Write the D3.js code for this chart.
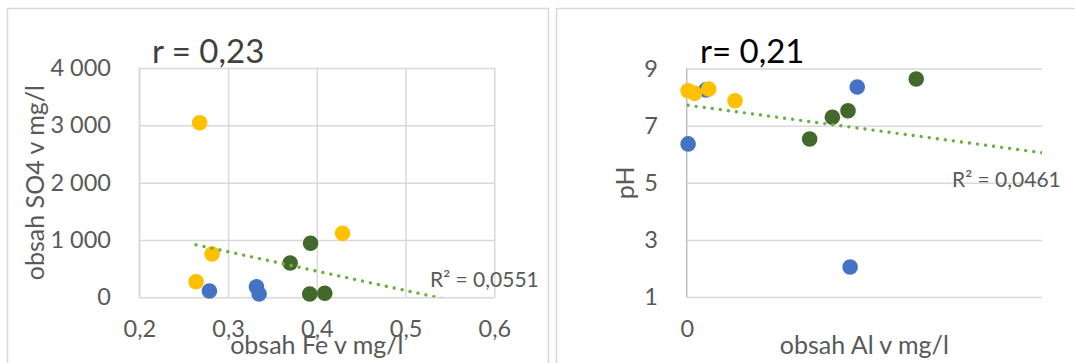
<!DOCTYPE html>
<html><head><meta charset="utf-8">
<script src="https://cdn.jsdelivr.net/npm/d3@7"></script>
<style>
body{margin:0;background:#fff}
svg{display:block}
text{font-family:Lato,'Open Sans',sans-serif}
</style>
</head><body>
<svg id="c" width="1075" height="363"></svg>
<script>
// ---------- DATA ----------
// Chart 1: Fe (mg/l) vs SO4 (mg/l)
const feBlue   = [0.279, 0.332, 0.335];
const so4Blue  = [110, 185, 58];
const feYellow = [0.268, 0.282, 0.264, 0.429];
const so4Yellow= [3045, 755, 272, 1116];
const feGreen  = [0.393, 0.370, 0.392, 0.409];
const so4Green = [942, 598, 58, 70];
const feTicks  = [0.2, 0.3, 0.4, 0.5, 0.6];
const so4Ticks = [0, 1000, 2000, 3000, 4000];

// Chart 2: Al (mg/l) vs pH
const alBlue   = [0.027, 0.002, 0.240, 0.230];
const phBlue   = [8.25, 6.36, 8.35, 2.05];
const alYellow = [0.002, 0.011, 0.031, 0.068];
const phYellow = [8.22, 8.13, 8.28, 7.87];
const alGreen  = [0.323, 0.227, 0.205, 0.173];
const phGreen  = [8.63, 7.52, 7.29, 6.53];
const alTicks  = [0];
const phTicks  = [1, 3, 5, 7, 9];

const titles   = ["r = 0,23", "r= 0,21"];
const r2Labels = ["R² = 0,0551", "R² = 0,0461"];
const xTitles  = ["obsah Fe v mg/l", "obsah Al v mg/l"];
const yTitles  = ["obsah SO4 v mg/l", "pH"];

// ---------- STYLE ----------
const COL = {blue:"#4472C4", yellow:"#FFC000", green:"#43682B", trend:"#70AD47",
             grid:"#d9d9d9", axis:"#bfbfbf", text:"#595959", border:"#d9d9d9"};
const R = 7.8;

const locale = d3.formatLocale({decimal:",", thousands:"\u00a0", grouping:[3], currency:["",""]});
const fmtThousands = locale.format(",d");
const fmtDec1 = locale.format(".1f");

const svg = d3.select("#c");

// chart frames
svg.append("rect").attr("x",7.5).attr("y",8.5).attr("width",541).attr("height",400)
  .attr("fill","none").attr("stroke",COL.border).attr("stroke-width",1.5);
svg.append("rect").attr("x",556.5).attr("y",8.5).attr("width",600).attr("height",400)
  .attr("fill","none").attr("stroke",COL.border).attr("stroke-width",1.5);

function zip(xs, ys){ return xs.map((x,i)=>({x, y:ys[i]})); }

function regression(pts){
  const mx = d3.mean(pts,d=>d.x), my = d3.mean(pts,d=>d.y);
  let sxy=0, sxx=0;
  pts.forEach(d=>{ sxy += (d.x-mx)*(d.y-my); sxx += (d.x-mx)*(d.x-mx); });
  const b = sxy/sxx, a = my - b*mx;
  return x => a + b*x;
}

function drawChart(cfg){
  const g = svg.append("g");
  const x = d3.scaleLinear().domain(cfg.xDomain).range([cfg.left, cfg.right]);
  const y = d3.scaleLinear().domain(cfg.yDomain).range([cfg.bottom, cfg.top]);

  // horizontal gridlines
  g.append("g").attr("transform",`translate(${cfg.left},0)`)
    .call(d3.axisLeft(y).tickValues(cfg.yTicks).tickSize(-(cfg.right-cfg.left)).tickFormat(""))
    .call(s=>s.select(".domain").remove())
    .call(s=>s.selectAll("line").attr("stroke",COL.grid).attr("stroke-width",1.5));
  // vertical gridlines
  if (cfg.vGrid){
    g.append("g").attr("transform",`translate(0,${cfg.bottom})`)
      .call(d3.axisBottom(x).tickValues(cfg.xTicks).tickSize(-(cfg.bottom-cfg.top)).tickFormat(""))
      .call(s=>s.select(".domain").remove())
      .call(s=>s.selectAll("line").attr("stroke",COL.grid).attr("stroke-width",1.5));
  }
  // y axis line
  g.append("line").attr("x1",x(cfg.xDomain[0])).attr("x2",x(cfg.xDomain[0]))
    .attr("y1",cfg.top).attr("y2",cfg.bottom)
    .attr("stroke",cfg.axisColor).attr("stroke-width",1.5);

  // y tick labels
  g.append("g").attr("transform",`translate(${cfg.yLabelX},0)`)
    .call(d3.axisLeft(y).tickValues(cfg.yTicks).tickSize(0).tickPadding(0).tickFormat(cfg.yFmt))
    .call(s=>s.select(".domain").remove())
    .call(s=>s.selectAll("text").attr("fill",COL.text).style("font-size","23.5px")
        .attr("font-family","Lato"));
  // x tick labels
  g.append("g").attr("transform",`translate(0,${cfg.xLabelY})`)
    .call(d3.axisBottom(x).tickValues(cfg.xTicks).tickSize(0).tickPadding(0).tickFormat(cfg.xFmt))
    .call(s=>s.select(".domain").remove())
    .call(s=>s.selectAll("text").attr("fill",COL.text).style("font-size","23.5px")
        .attr("dy",null).attr("y",0).attr("font-family","Lato"));

  // clip for trend line
  const clipId = "clip"+cfg.id;
  svg.append("clipPath").attr("id",clipId).append("rect")
    .attr("x",cfg.left).attr("y",cfg.top).attr("width",cfg.right-cfg.left).attr("height",cfg.bottom-cfg.top);

  // points
  cfg.series.forEach(s=>{
    g.append("g").selectAll("circle").data(s.pts).join("circle")
      .attr("cx",d=>x(d.x)).attr("cy",d=>y(d.y)).attr("r",R).attr("fill",s.color);
  });

  // trend line (linear least squares of all points)
  const all = cfg.series.flatMap(s=>s.pts);
  const f = regression(all);
  const x0 = d3.min(all,d=>d.x), x1 = cfg.trendEnd;
  g.append("line").attr("clip-path",`url(#${clipId})`)
    .attr("x1",x(x0)).attr("y1",y(f(x0))).attr("x2",x(x1)).attr("y2",y(f(x1)))
    .attr("stroke",COL.trend).attr("stroke-width",3.4).attr("stroke-linecap","round")
    .attr("stroke-dasharray","0.01 8.1");

  // R² label
  g.append("text").attr("x",cfg.r2x).attr("y",cfg.r2y).text(cfg.r2)
    .attr("fill",COL.text).style("font-size","21px");
  // r title
  g.append("text").attr("x",cfg.tx).attr("y",63).text(cfg.title)
    .attr("fill",cfg.titleColor).style("font-size","33px");
  // axis titles
  g.append("text").attr("x",(cfg.left+cfg.right)/2).attr("y",354).attr("text-anchor","middle")
    .text(cfg.xTitle).attr("fill",COL.text).style("font-size","25px");
  g.append("text").attr("transform",`translate(${cfg.yTitleX},${(cfg.top+cfg.bottom)/2}) rotate(-90)`)
    .attr("text-anchor","middle").text(cfg.yTitle).attr("fill",COL.text).style("font-size","25px");
}

drawChart({
  id:1, left:139.3, right:494.3, top:68, bottom:297.3,
  xDomain:[0.2,0.6], yDomain:[0,4000], xTicks:feTicks, yTicks:so4Ticks, vGrid:true,
  axisColor:COL.grid,
  xFmt:fmtDec1, yFmt:fmtThousands, yLabelX:111, xLabelY:337,
  series:[
    {pts:zip(feYellow,so4Yellow), color:COL.yellow},
    {pts:zip(feBlue,so4Blue), color:COL.blue},
    {pts:zip(feGreen,so4Green), color:COL.green}
  ],
  trendEnd:0.56, r2:r2Labels[0], r2x:430, r2y:287,
  title:titles[0], tx:152, titleColor:"#404040",
  xTitle:xTitles[0], yTitle:yTitles[0], yTitleX:44
});

drawChart({
  id:2, left:686.7, right:1042, top:68.5, bottom:297,
  xDomain:[0,0.5], yDomain:[1,9], xTicks:alTicks, yTicks:phTicks, vGrid:false,
  axisColor:COL.axis,
  xFmt:d3.format("d"), yFmt:d3.format("d"), yLabelX:658, xLabelY:337,
  series:[
    {pts:zip(alBlue,phBlue), color:COL.blue},
    {pts:zip(alYellow,phYellow), color:COL.yellow},
    {pts:zip(alGreen,phGreen), color:COL.green}
  ],
  trendEnd:0.5, r2:r2Labels[1], r2x:952, r2y:187,
  title:titles[1], tx:700, titleColor:"#000000",
  xTitle:xTitles[1], yTitle:yTitles[1], yTitleX:634
});
</script>
</body></html>
